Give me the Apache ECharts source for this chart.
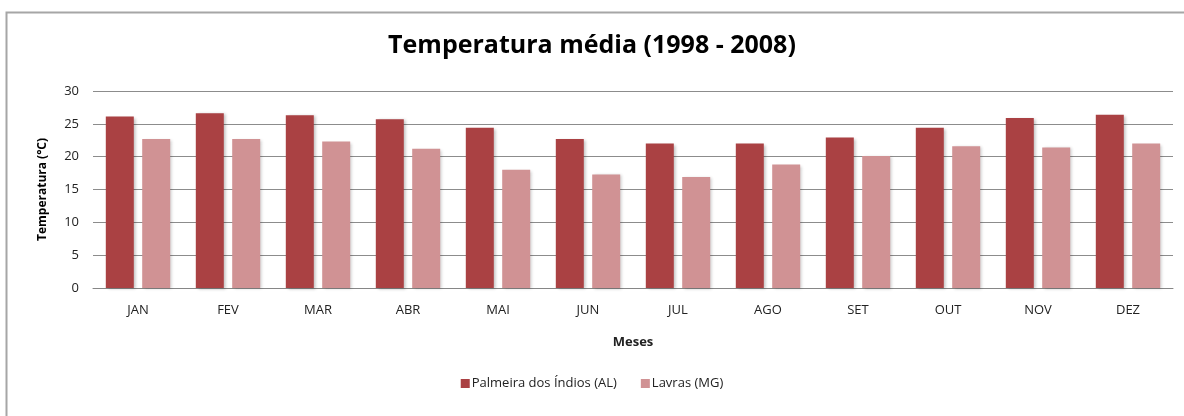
<!DOCTYPE html>
<html>
<head>
<meta charset="utf-8">
<script src="https://cdn.jsdelivr.net/npm/echarts@6/dist/echarts.min.js"></script>
<style>
  html, body { margin: 0; padding: 0; background: #fff; }
  #chart1 { width: 1184px; height: 416px; }
</style>
</head>
<body>
<div id="chart1"></div>
<script>
var meses = ['JAN', 'FEV', 'MAR', 'ABR', 'MAI', 'JUN', 'JUL', 'AGO', 'SET', 'OUT', 'NOV', 'DEZ'];
var palmeira = [26.1, 26.6, 26.3, 25.7, 24.4, 22.7, 22.0, 22.0, 22.9, 24.4, 25.9, 26.4];
var lavras = [22.7, 22.7, 22.3, 21.2, 18.0, 17.3, 16.9, 18.8, 20.1, 21.6, 21.4, 22.0];
var yTicks = [0, 5, 10, 15, 20, 25, 30];

var chart = echarts.init(document.getElementById('chart1'), null, { renderer: 'canvas' });
var fonte = 'Open Sans, Noto Sans, sans-serif';

chart.setOption({
  animation: false,
  textStyle: { fontFamily: fonte },
  graphic: [{
    type: 'rect',
    shape: { x: 6.5, y: 12.5, width: 1190, height: 420 },
    style: { fill: 'none', stroke: '#a6a6a6', lineWidth: 2 }
  }],
  title: {
    text: 'Temperatura média (1998 - 2008)',
    left: 'center',
    top: 28,
    textStyle: { fontSize: 25, fontWeight: 'bold', color: '#000', fontFamily: fonte }
  },
  legend: {
    data: ['Palmeira dos Índios (AL)', 'Lavras (MG)'],
    bottom: 21,
    left: 'center',
    itemWidth: 9,
    itemHeight: 9,
    itemGap: 24,
    icon: 'rect',
    textStyle: { fontSize: 13, color: '#222', padding: [0, 0, 0, -3] }
  },
  grid: { left: 93, right: 11, top: 91, height: 197, containLabel: false },
  xAxis: {
    type: 'category',
    data: meses,
    name: 'Meses',
    nameLocation: 'middle',
    nameGap: 48,
    nameTextStyle: { fontWeight: 'bold', fontSize: 13, color: '#222' },
    axisLine: { lineStyle: { color: '#868686', width: 1 } },
    axisTick: { show: false },
    axisLabel: { fontSize: 13, color: '#222', margin: 16 }
  },
  yAxis: {
    type: 'value',
    min: 0,
    max: 30,
    interval: 5,
    name: 'Temperatura (°C)',
    nameLocation: 'middle',
    nameGap: 44,
    nameTextStyle: { fontWeight: 'bold', fontSize: 12, color: '#000' },
    axisLine: { show: false },
    axisTick: { show: false },
    axisLabel: {
      fontSize: 13, color: '#222', margin: 14,
      formatter: function (v) { return yTicks.indexOf(v) >= 0 ? String(v) : ''; }
    },
    splitLine: { lineStyle: { color: '#8c8c8c', width: 1 } }
  },
  series: [{
    name: 'Palmeira dos Índios (AL)',
    type: 'bar',
    data: palmeira,
    barWidth: 28,
    barGap: '30%',
    itemStyle: {
      color: '#aa4143',
      shadowColor: 'rgba(0,0,0,0.25)',
      shadowBlur: 3,
      shadowOffsetX: 2,
      shadowOffsetY: 1
    }
  }, {
    name: 'Lavras (MG)',
    type: 'bar',
    data: lavras,
    barWidth: 28,
    itemStyle: {
      color: '#d09294',
      shadowColor: 'rgba(0,0,0,0.2)',
      shadowBlur: 3,
      shadowOffsetX: 2,
      shadowOffsetY: 1
    }
  }]
});
</script>
</body>
</html>
